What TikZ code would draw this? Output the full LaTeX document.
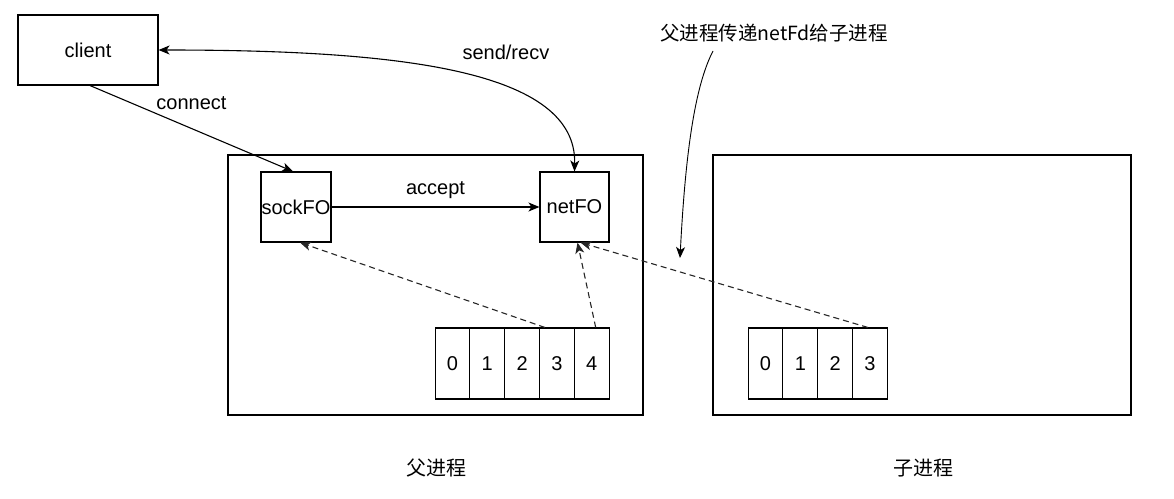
\documentclass[tikz,border=0pt]{standalone}
\usepackage{fontspec}
\setmainfont{Liberation Sans}
\newfontfamily\cjk{Noto Sans CJK SC}
\usetikzlibrary{arrows.meta}

\begin{document}
\begin{tikzpicture}[x=1pt, y=-1pt, line width=1.1pt, font=\fontsize{20}{24}\selectfont,
    box/.style={draw, inner sep=0pt},
    cell/.style={draw, inner sep=0pt, minimum width=34.8pt, minimum height=71pt},
    tip/.style={-{Stealth[length=11pt, width=9pt, inset=3pt]}},
    fdlink/.style={tip, dashed, dash pattern=on 6pt off 4pt, color=black!85}]
        \useasboundingbox (0,0) rectangle (1174,498);
        % processes
        \node[box, minimum width=415pt, minimum height=260pt] (parent) at (435.5,285) {};
        \node[box, minimum width=418pt, minimum height=260pt] (child) at (922,285) {};
        \node (parentlabel) at (436,468) {\cjk 父进程};
        \node (childlabel) at (923,468) {\cjk 子进程};
        % client and sockets
        \node[box, minimum width=140pt, minimum height=70pt] (client) at (88,50) {client};
        \node[box, minimum width=70pt, minimum height=70pt] (sockfo) at (296,207) {sockFO};
        \node[box, minimum width=69pt, minimum height=70pt] (netfo) at (574.5,207) {netFO};
        % fd tables
        \foreach \i in {0,...,4}
            \node[cell] (p\i) at (452.5+34.8*\i,363.5) {\i};
        \foreach \i in {0,...,3}
            \node[cell] (c\i) at (765.5+34.8*\i,363.5) {\i};
        \draw[tip] (client.south) ++(2,0) -- ([xshift=-3pt]sockfo.north) node[pos=0.5, above, yshift=15pt] {connect};
        \draw[tip] (sockfo) -- (netfo) node[midway, above, yshift=4pt] {accept};
        \draw[{Stealth[length=11pt, width=9pt, inset=3pt]}-{Stealth[length=11pt, width=9pt, inset=3pt]}] (client.east) .. controls (400,50) and (577,70) .. (netfo.north) node[pos=0.62, above, yshift=24pt] {send/recv};
        \draw[fdlink] ([xshift=-12pt]p3.north) -- ([xshift=4pt]sockfo.south);
        \draw[fdlink] ([xshift=4pt]p4.north) -- ([xshift=3pt]netfo.south);
        \draw[fdlink] ([xshift=-2pt]c3.north) -- ([xshift=6pt]netfo.south);
        % note
        \node[font=\fontsize{19.5}{22}\selectfont\cjk] (note) at (774,33) {父进程传递netFd给子进程};
        \coordinate (notefrom) at (713,51);
        \coordinate (noteto) at (680,258);
        \draw[tip, line width=0.9pt] (notefrom) .. controls (697,82) and (686,140) .. (noteto);
\end{tikzpicture}
\end{document}
